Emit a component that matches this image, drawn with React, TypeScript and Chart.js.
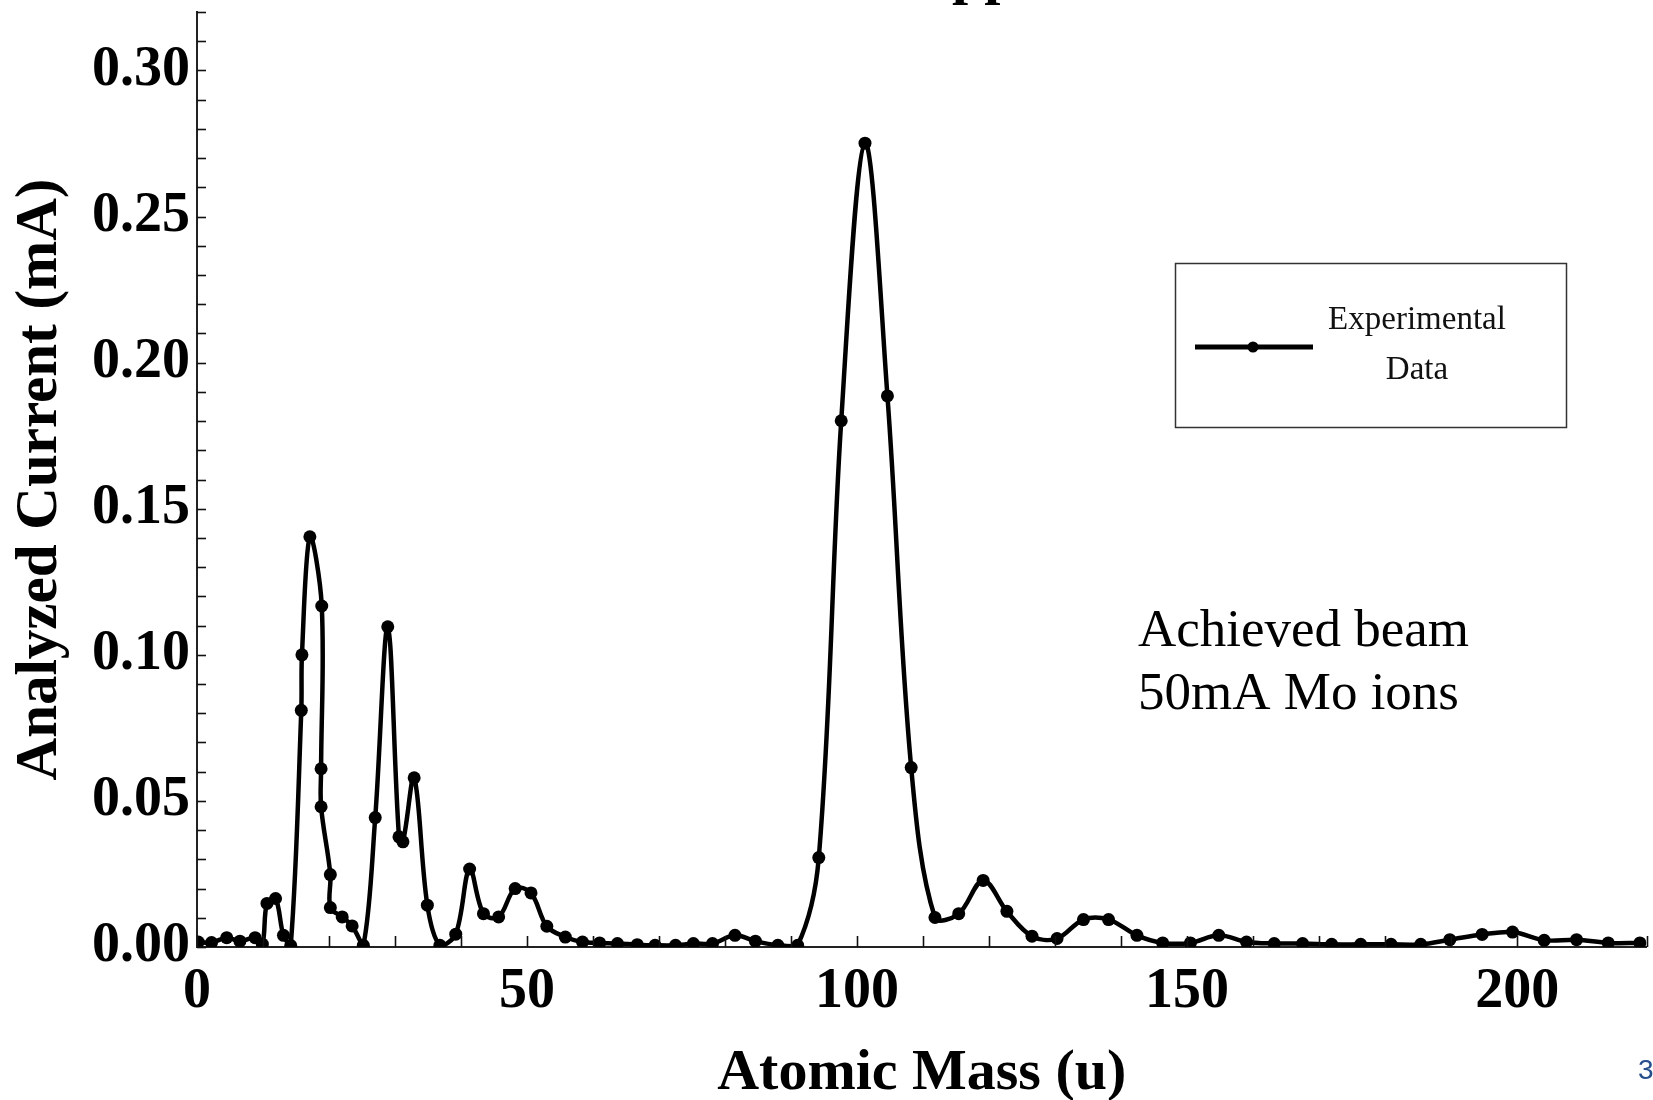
import React, { useEffect, useRef } from "react";
import { Chart, registerables } from "chart.js";

Chart.register(...registerables);

// Atomic mass (u) of each measured point
const atomicMass = [
  0.2, 2.2, 4.5, 6.5, 8.8, 9.9, 10.6, 11.9, 13.1, 14.2,
  15.8, 15.9, 17.1, 18.9, 18.8, 18.8, 20.2, 20.2, 22.0, 23.5,
  25.2, 27.0, 28.9, 30.6, 31.2, 32.9, 34.9, 36.8, 39.2, 41.3,
  43.4, 45.7, 48.2, 50.6, 53.0, 55.8, 58.4, 61.0, 63.7, 66.7,
  69.4, 72.5, 75.2, 78.1, 81.5, 84.6, 88.0, 91.0, 94.2, 97.6,
  101.2, 104.6, 108.2, 111.8, 115.4, 119.1, 122.7, 126.5, 130.3, 134.3,
  138.1, 142.4, 146.3, 150.5, 154.8, 159.0, 163.2, 167.5, 171.9, 176.3,
  180.9, 185.4, 189.8, 194.7, 199.3, 204.1, 209.0, 213.8, 218.6,
];

// Analyzed current (mA) of each measured point
const analyzedCurrent = [
  0.0017, 0.0015, 0.0032, 0.002, 0.0032, 0.001, 0.0149, 0.0166, 0.004, 0.0005,
  0.081, 0.1, 0.1404, 0.1167, 0.061, 0.048, 0.0248, 0.0135, 0.0103, 0.0072,
  0.0006, 0.0443, 0.1096, 0.0377, 0.036, 0.0579, 0.0143, 0.0006, 0.0044, 0.0267,
  0.0114, 0.0103, 0.02, 0.0185, 0.0071, 0.0034, 0.0017, 0.0014, 0.0012, 0.0008,
  0.0006, 0.0006, 0.0012, 0.0012, 0.004, 0.002, 0.0006, 0.0006, 0.0306, 0.1801,
  0.2751, 0.1886, 0.0614, 0.0101, 0.0114, 0.0228, 0.0122, 0.0037, 0.0029, 0.0094,
  0.0094, 0.004, 0.0014, 0.0014, 0.004, 0.0017, 0.0012, 0.0012, 0.0009, 0.0009,
  0.0009, 0.0009, 0.0025, 0.0043, 0.0051, 0.0023, 0.0025, 0.0014, 0.0014,
];

const xTickValues = [0, 50, 100, 150, 200];
const xTickLabels = ["0", "50", "100", "150", "200"];
const yTickValues = [0, 0.05, 0.1, 0.15, 0.2, 0.25, 0.3];
const yTickLabels = ["0.00", "0.05", "0.10", "0.15", "0.20", "0.25", "0.30"];

const seriesLabel = "Experimental Data";
const legendLines = ["Experimental", "Data"];
const noteLines = ["Achieved beam", "50mA Mo ions"];
const xTitle = "Atomic Mass (u)";
const yTitle = "Analyzed Current (mA)";
const topTitle = "Applied";
const slideNumber = "32";

const SERIF = '"Liberation Serif", "Times New Roman", serif';

const decorPlugin = {
  id: "decor",
  afterDraw(chart: any) {
    const { ctx, chartArea, scales } = chart;
    const xs = scales.x;
    const ys = scales.y;
    ctx.save();
    // inward tick marks
    ctx.strokeStyle = "#111";
    ctx.lineWidth = 1.6;
    ys.ticks.forEach((t: any) => {
      const py = Math.round(ys.getPixelForValue(t.value)) + 0.5;
      ctx.beginPath();
      ctx.moveTo(chartArea.left, py);
      ctx.lineTo(chartArea.left + 9, py);
      ctx.stroke();
    });
    xs.ticks.forEach((t: any) => {
      const px = Math.round(xs.getPixelForValue(t.value)) + 0.5;
      ctx.beginPath();
      ctx.moveTo(px, chartArea.bottom);
      ctx.lineTo(px, chartArea.bottom - 11);
      ctx.stroke();
    });

    // legend box
    ctx.strokeStyle = "#333";
    ctx.lineWidth = 1.5;
    ctx.strokeRect(1175.5, 263.5, 391, 164);
    ctx.strokeStyle = "#000";
    ctx.lineWidth = 5;
    ctx.beginPath();
    ctx.moveTo(1195, 347);
    ctx.lineTo(1313, 347);
    ctx.stroke();
    ctx.fillStyle = "#000";
    ctx.beginPath();
    ctx.arc(1253, 347, 5.5, 0, Math.PI * 2);
    ctx.fill();
    ctx.font = `33px ${SERIF}`;
    ctx.textAlign = "center";
    ctx.textBaseline = "middle";
    ctx.fillStyle = "#111";
    ctx.fillText(legendLines[0], 1417, 320);
    ctx.fillText(legendLines[1], 1417, 370);

    // annotation
    ctx.font = `53px ${SERIF}`;
    ctx.textAlign = "left";
    ctx.textBaseline = "alphabetic";
    ctx.fillStyle = "#000";
    ctx.fillText(noteLines[0], 1138, 646);
    ctx.fillText(noteLines[1], 1138, 709);

    // cut-off title at top
    ctx.font = `bold 58px ${SERIF}`;
    ctx.fillText(topTitle, 910, -7.5);

    // slide number
    ctx.font = '28px "Liberation Sans", Arial, sans-serif';
    ctx.fillStyle = "#264d8c";
    ctx.fillText(slideNumber, 1638, 1079);
    ctx.restore();
  },
};

export default function App() {
  const ref = useRef<HTMLCanvasElement | null>(null);

  useEffect(() => {
    document.body.style.margin = "0";
    const canvas = ref.current;
    if (!canvas) return;
    const chart = new Chart(canvas, {
      type: "line",
      data: {
        datasets: [
          {
            label: seriesLabel,
            data: atomicMass.map((m, i) => ({ x: m, y: analyzedCurrent[i] })),
            borderColor: "#000",
            backgroundColor: "#000",
            borderWidth: 4.5,
            pointRadius: 6.5,
            pointBorderWidth: 0,
            pointBackgroundColor: "#000",
            tension: 0.35,
            fill: false,
          },
        ],
      },
      options: {
        animation: false,
        responsive: false,
        devicePixelRatio: 1,
        layout: { padding: { top: 12, right: 0, left: 0, bottom: 0 } },
        plugins: {
          legend: { display: false },
          tooltip: { enabled: false },
        },
        scales: {
          x: {
            type: "linear",
            min: 0,
            max: 219.6,
            afterFit: (s: any) => {
              s.height = 153;
              s.paddingLeft = 0;
              s.paddingRight = 0;
            },
            grid: { display: true, drawOnChartArea: false, drawTicks: false },
            border: { display: true, color: "#222", width: 2 },
            ticks: {
              stepSize: 10,
              autoSkip: false,
              maxRotation: 0,
              padding: 12,
              color: "#000",
              font: { family: SERIF, size: 56, weight: "bold" },
              callback: (v: any) => {
                const i = xTickValues.findIndex((t) => Math.abs(t - Number(v)) < 1e-6);
                return i >= 0 ? xTickLabels[i] : "";
              },
            },
            title: {
              display: true,
              text: xTitle,
              color: "#000",
              font: { family: SERIF, size: 58, weight: "bold", lineHeight: 0.9 },
              padding: { top: 0, bottom: 0 },
            },
          },
          y: {
            type: "linear",
            min: 0,
            max: 0.32,
            afterFit: (s: any) => {
              s.width = 197;
              s.paddingTop = 0;
              s.paddingBottom = 0;
            },
            grid: { display: true, drawOnChartArea: false, drawTicks: false },
            border: { display: true, color: "#222", width: 2 },
            ticks: {
              stepSize: 0.01,
              autoSkip: false,
              padding: 7,
              color: "#000",
              font: { family: SERIF, size: 56, weight: "bold" },
              callback: (v: any) => {
                const i = yTickValues.findIndex((t) => Math.abs(t - Number(v)) < 1e-6);
                return i >= 0 ? yTickLabels[i] : "";
              },
            },
            title: {
              display: true,
              text: yTitle,
              color: "#000",
              font: { family: SERIF, size: 59, weight: "bold", lineHeight: 1.2 },
              padding: { top: 5, bottom: 0 },
            },
          },
        },
      },
      plugins: [decorPlugin],
    });
    return () => chart.destroy();
  }, []);

  return (
    <div style={{ position: "absolute", left: 0, top: 0, width: 1653, height: 1100, background: "#fff" }}>
      <canvas ref={ref} width={1653} height={1100} style={{ display: "block", width: 1653, height: 1100 }} />
    </div>
  );
}
